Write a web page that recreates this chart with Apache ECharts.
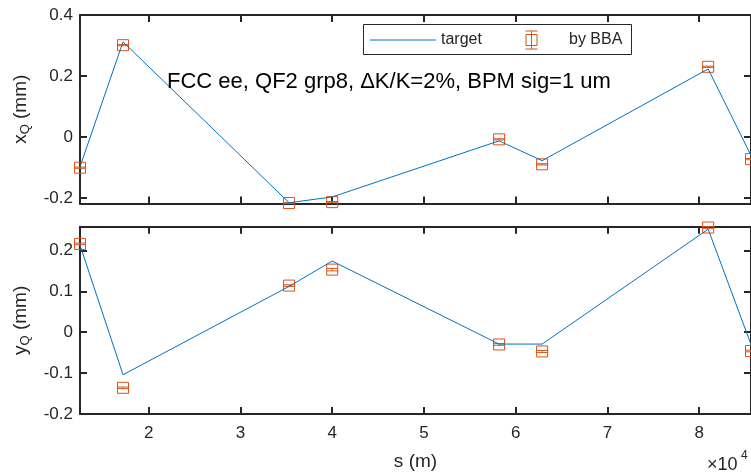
<!DOCTYPE html>
<html>
<head>
<meta charset="utf-8">
<script src="https://cdn.jsdelivr.net/npm/echarts@6/dist/echarts.min.js"></script>
<style>html,body{margin:0;padding:0;background:#fff;}#c{width:751px;height:472px;}</style>
</head>
<body>
<div id="c"></div>
<script>
// s in units of 10^4 m
const s = [1.251, 1.720, 3.530, 4.000, 5.819, 6.288, 8.098, 8.565];
const xTarget = [-0.098, 0.312, -0.216, -0.197, -0.013, -0.078, 0.223, -0.061];
const xBBA    = [-0.101, 0.301, -0.2170, -0.214, -0.008, -0.090, 0.230, -0.073];
const xErr    = [0.002, 0.002, 0.0015, 0.002, 0.002, 0.002, 0.002, 0.002];
const yTarget = [0.213, -0.104, 0.112, 0.174, -0.029, -0.029, 0.252, -0.030];
const yBBA    = [0.216, -0.136, 0.114, 0.153, -0.030, -0.047, 0.256, -0.046];
const yErr    = [0.002, 0.002, 0.002, 0.003, 0.002, 0.0025, 0.002, 0.002];
const xTicks = [2, 3, 4, 5, 6, 7, 8];
const topYTicks = [-0.2, 0, 0.2, 0.4];
const botYTicks = [-0.2, -0.1, 0, 0.1, 0.2];

const BLUE = '#0072BD', ORANGE = '#D95319', AX = '#262626';
const FONT = "'Liberation Sans', Arial, sans-serif";

const chart = echarts.init(document.getElementById('c'));

function renderErr(params, api) {
  const x = api.value(0), y = api.value(1), e = api.value(2);
  const c = api.coord([x, y]);
  const t = api.coord([x, y + e]);
  const b = api.coord([x, y - e]);
  const hw = 6, hs = 5.5;
  const st = { stroke: ORANGE, lineWidth: 1, fill: null };
  return {
    type: 'group',
    children: [
      { type: 'line', shape: { x1: t[0], y1: t[1], x2: b[0], y2: b[1] }, style: st },
      { type: 'line', shape: { x1: t[0] - hw, y1: t[1], x2: t[0] + hw, y2: t[1] }, style: st },
      { type: 'line', shape: { x1: b[0] - hw, y1: b[1], x2: b[0] + hw, y2: b[1] }, style: st },
      { type: 'rect', shape: { x: c[0] - hs, y: c[1] - hs, width: 2 * hs, height: 2 * hs }, style: { stroke: ORANGE, lineWidth: 1, fill: 'none' } }
    ]
  };
}

function xAx(gi, pos, labels, name) {
  const o = {
    type: 'value', gridIndex: gi, position: pos, min: s[0], max: s[s.length - 1],
    axisLine: { show: true, onZero: false, lineStyle: { color: AX, width: 2 } },
    axisTick: { show: true, inside: true, length: 7, customValues: xTicks, lineStyle: { color: AX, width: 2 } },
    axisLabel: { show: labels, customValues: xTicks, margin: 11, fontSize: 17, color: AX, fontFamily: FONT },
    splitLine: { show: false }
  };
  if (name) {
    o.name = name; o.nameLocation = 'middle'; o.nameGap = 38;
    o.nameTextStyle = { fontSize: 19, color: AX, fontFamily: FONT };
  }
  return o;
}
function yAx(gi, pos, min, max, ticks, labels, name) {
  const o = {
    type: 'value', gridIndex: gi, position: pos, min: min, max: max,
    axisLine: { show: true, onZero: false, lineStyle: { color: AX, width: 2 } },
    axisTick: { show: true, inside: true, length: 7, customValues: ticks, lineStyle: { color: AX, width: 2 } },
    axisLabel: { show: labels, customValues: ticks, margin: 7, fontSize: 17, color: AX, fontFamily: FONT,
      formatter: v => (Math.abs(v) < 1e-9 ? '0' : String(+v.toFixed(2))) },
    splitLine: { show: false }
  };
  if (name) {
    o.name = name; o.nameLocation = 'middle'; o.nameGap = 48;
    o.nameTextStyle = {
      color: AX, fontFamily: FONT,
      rich: {
        a: { fontSize: 19, color: AX, fontFamily: FONT },
        b: { fontSize: 13, color: AX, fontFamily: FONT, padding: [10, 0, 0, 0] }
      }
    };
  }
  return o;
}

// legend drawn as graphic elements
const legendY = 40;
const legendGraphic = [
  { type: 'rect', shape: { x: 363.5, y: 24.5, width: 268, height: 30 }, style: { fill: '#fff', stroke: AX, lineWidth: 1 }, z: 20 },
  { type: 'line', shape: { x1: 370, y1: legendY, x2: 436, y2: legendY }, style: { stroke: BLUE, lineWidth: 1 }, z: 21 },
  { type: 'text', x: 441, y: legendY, z: 21, style: { text: 'target', fontSize: 16, fill: AX, fontFamily: FONT, verticalAlign: 'middle' } },
  { type: 'line', shape: { x1: 531.5, y1: 31, x2: 531.5, y2: 49 }, style: { stroke: ORANGE, lineWidth: 1 }, z: 21 },
  { type: 'line', shape: { x1: 525.5, y1: 31, x2: 537.5, y2: 31 }, style: { stroke: ORANGE, lineWidth: 1 }, z: 21 },
  { type: 'line', shape: { x1: 525.5, y1: 49, x2: 537.5, y2: 49 }, style: { stroke: ORANGE, lineWidth: 1 }, z: 21 },
  { type: 'rect', shape: { x: 526, y: 34.5, width: 11, height: 11 }, style: { fill: 'none', stroke: ORANGE, lineWidth: 1 }, z: 21 },
  { type: 'text', x: 569, y: legendY, z: 21, style: { text: 'by BBA', fontSize: 16, fill: AX, fontFamily: FONT, verticalAlign: 'middle' } }
];

const option = {
  backgroundColor: '#fff',
  animation: false,
  grid: [
    { left: 80, right: -1, top: 15, height: 188.5 },
    { left: 80, right: -1, top: 226.7, height: 189 }
  ],
  xAxis: [
    xAx(0, 'bottom', false),
    xAx(0, 'top', false),
    xAx(1, 'bottom', true, 's (m)'),
    xAx(1, 'top', false)
  ],
  yAxis: [
    yAx(0, 'left', -0.2185, 0.4, topYTicks, true, '{a|x}{b|Q}{a| (mm)}'),
    yAx(0, 'right', -0.2185, 0.4, topYTicks, false),
    yAx(1, 'left', -0.2, 0.258, botYTicks, true, '{a|y}{b|Q}{a| (mm)}'),
    yAx(1, 'right', -0.2, 0.258, botYTicks, false)
  ],
  graphic: legendGraphic.concat([
    { type: 'text', x: 167, y: 82, z: 10,
      style: { text: 'FCC ee, QF2 grp8, \u0394K/K=2%, BPM sig=1 um', fontSize: 22, fill: '#000', fontFamily: FONT, verticalAlign: 'middle' } },
    { type: 'text', x: 707, y: 474, z: 10,
      style: { text: '\u00d710', fontSize: 18, fill: AX, fontFamily: FONT, verticalAlign: 'bottom' } },
    { type: 'text', x: 741, y: 462, z: 10,
      style: { text: '4', fontSize: 12, fill: AX, fontFamily: FONT, verticalAlign: 'bottom' } }
  ]),
  series: [
    { name: 'target', type: 'line', xAxisIndex: 0, yAxisIndex: 0, symbol: 'none',
      lineStyle: { color: BLUE, width: 1 }, itemStyle: { color: BLUE },
      data: s.map((v, i) => [v, xTarget[i]]) },
    { name: 'by BBA', type: 'custom', xAxisIndex: 0, yAxisIndex: 0, renderItem: renderErr,
      itemStyle: { color: ORANGE }, encode: { x: 0, y: 1 },
      data: s.map((v, i) => [v, xBBA[i], xErr[i]]) },
    { name: 'target', type: 'line', xAxisIndex: 2, yAxisIndex: 2, symbol: 'none',
      lineStyle: { color: BLUE, width: 1 }, itemStyle: { color: BLUE },
      data: s.map((v, i) => [v, yTarget[i]]) },
    { name: 'by BBA', type: 'custom', xAxisIndex: 2, yAxisIndex: 2, renderItem: renderErr,
      itemStyle: { color: ORANGE }, encode: { x: 0, y: 1 },
      data: s.map((v, i) => [v, yBBA[i], yErr[i]]) }
  ]
};
chart.setOption(option);
</script>
</body>
</html>
